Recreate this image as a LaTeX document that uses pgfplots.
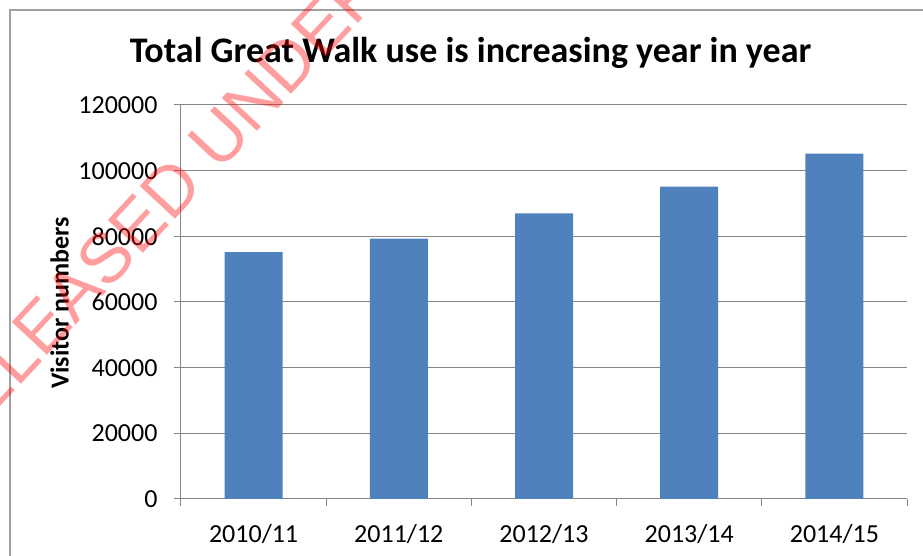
\documentclass[border=0pt]{standalone}
\usepackage{fontspec}
\setmainfont{Carlito}
\newfontfamily\wmfont{Liberation Sans}
\usepackage{pgfplots}
\pgfplotsset{compat=1.18}
\definecolor{barblue}{HTML}{4F81BD}
\definecolor{gridgray}{HTML}{868686}
\definecolor{framegray}{HTML}{A0A0A0}
\begin{document}
\begin{tikzpicture}[x=1pt,y=1pt]
\useasboundingbox (-181,-57) rectangle (742,499);
\draw[framegray, line width=1.2pt] (-171,-80) -- (-171,489) -- (780,489);
\begin{axis}[
  at={(0,0)}, anchor=south west,
  scale only axis, width=726pt, height=394pt,
  xmin=-0.5, xmax=4.5, ymin=0, ymax=120000,
  axis x line*=bottom, axis y line*=left,
  axis line style={gridgray, line width=1pt},
  ytick={0,20000,40000,60000,80000,100000,120000},
  scaled y ticks=false,
  /pgf/number format/.cd, fixed, 1000 sep={}, assume math mode=true, /pgfplots/.cd,
  ymajorgrids, grid style={gridgray, line width=1pt},
  tick align=outside, major tick length=7pt,
  tick style={gridgray, line width=1pt},
  xtick={-0.5,0.5,1.5,2.5,3.5,4.5}, xticklabels={},
  extra x ticks={0,1,2,3,4},
  extra x tick labels={2010/11,2011/12,2012/13,2013/14,2014/15},
  extra x tick style={major tick length=0pt, grid=none,
     tick label style={anchor=base, yshift=-44pt}},
  ticklabel style={font=\fontsize{26}{26}\selectfont},
  yticklabel style={anchor=east, xshift=-13pt},
]
\addplot[ybar, bar width=58pt, fill=barblue, draw=none] coordinates {
  (0,75200) (1,79300) (2,87000) (3,95100) (4,105200)
};
\end{axis}
\node[anchor=base, font=\fontsize{36}{36}\selectfont\bfseries] at (289.5,436) {Total Great Walk use is increasing year in year};
\node[rotate=90, font=\fontsize{26}{26}\selectfont\bfseries] at (-121.5,196) {Visitor numbers};
\node[rotate=47, anchor=base west, inner sep=0pt, text=red, text opacity=0.38, font=\wmfont\fontsize{70}{70}\selectfont] at (-230,39.5) {RELEASED UNDER THE OFFICIAL INFORMATION ACT};
\end{tikzpicture}
\end{document}
